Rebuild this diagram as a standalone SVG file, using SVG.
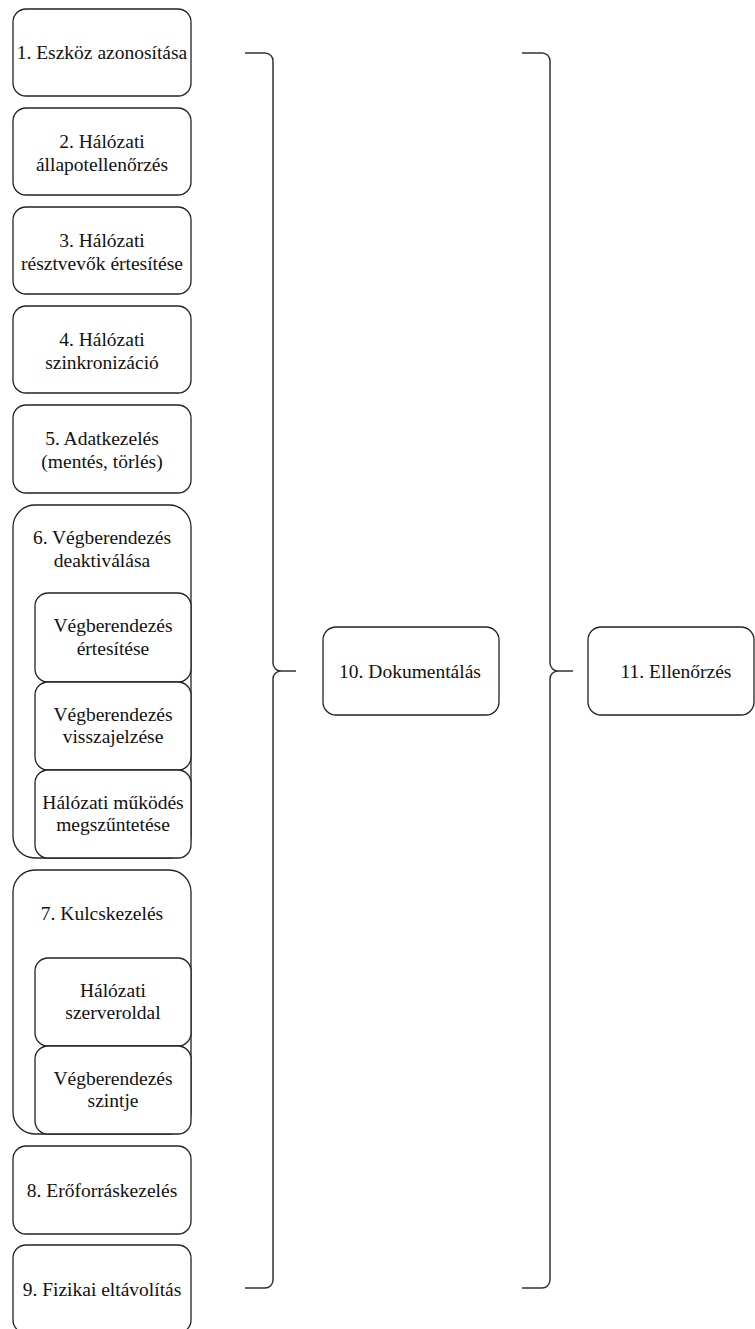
<svg xmlns="http://www.w3.org/2000/svg" width="755" height="1329" viewBox="0 0 755 1329">
  <style>
    .box { fill: #ffffff; stroke: #222222; stroke-width: 1.3; }
    .lbl { font-size: 19.5px; fill: #111111; text-anchor: middle; }
    .brace { fill: none; stroke: #333333; stroke-width: 1.5; }
  </style>
  <rect width="755" height="1329" fill="#ffffff"/>

  <g font-family="'Liberation Serif', 'DejaVu Serif', serif">
  <!-- step list, left column -->
  <g id="n1">
    <rect class="box" x="13" y="9" width="178" height="87" rx="13"/>
    <text class="lbl" x="102" y="59">1. Eszköz azonosítása</text>
  </g>
  <g id="n2">
    <rect class="box" x="13" y="108" width="178" height="87" rx="13"/>
    <text class="lbl" x="102" y="148">2. Hálózati</text>
    <text class="lbl" x="102" y="170.5">állapotellenőrzés</text>
  </g>
  <g id="n3">
    <rect class="box" x="13" y="207" width="178" height="87" rx="13"/>
    <text class="lbl" x="102" y="247">3. Hálózati</text>
    <text class="lbl" x="102" y="269.5">résztvevők értesítése</text>
  </g>
  <g id="n4">
    <rect class="box" x="13" y="306" width="178" height="87" rx="13"/>
    <text class="lbl" x="102" y="346">4. Hálózati</text>
    <text class="lbl" x="102" y="368.5">szinkronizáció</text>
  </g>
  <g id="n5">
    <rect class="box" x="13" y="405" width="178" height="88" rx="13"/>
    <text class="lbl" x="102" y="445">5. Adatkezelés</text>
    <text class="lbl" x="102" y="467.5">(mentés, törlés)</text>
  </g>

  <!-- step 6 with its sub-steps -->
  <g id="n6">
    <rect class="box" x="13" y="505" width="178" height="353" rx="22"/>
    <text class="lbl" x="102" y="544">6. Végberendezés</text>
    <text class="lbl" x="102" y="566.5">deaktiválása</text>
  </g>
  <g id="n6a">
    <rect class="box" x="35" y="593" width="156" height="89" rx="13"/>
    <text class="lbl" x="113" y="632">Végberendezés</text>
    <text class="lbl" x="113" y="654.5">értesítése</text>
  </g>
  <g id="n6b">
    <rect class="box" x="35" y="682" width="156" height="88" rx="13"/>
    <text class="lbl" x="113" y="720.5">Végberendezés</text>
    <text class="lbl" x="113" y="743">visszajelzése</text>
  </g>
  <g id="n6c">
    <rect class="box" x="35" y="770" width="156" height="88" rx="13"/>
    <text class="lbl" x="113" y="808.5">Hálózati működés</text>
    <text class="lbl" x="113" y="831">megszűntetése</text>
  </g>

  <!-- step 7 with its sub-steps -->
  <g id="n7">
    <rect class="box" x="13" y="870" width="178" height="264" rx="22"/>
    <text class="lbl" x="102" y="920">7. Kulcskezelés</text>
  </g>
  <g id="n7a">
    <rect class="box" x="35" y="958" width="156" height="88" rx="13"/>
    <text class="lbl" x="113" y="996.5">Hálózati</text>
    <text class="lbl" x="113" y="1019">szerveroldal</text>
  </g>
  <g id="n7b">
    <rect class="box" x="35" y="1046" width="156" height="88" rx="13"/>
    <text class="lbl" x="113" y="1084.5">Végberendezés</text>
    <text class="lbl" x="113" y="1107">szintje</text>
  </g>

  <g id="n8">
    <rect class="box" x="13" y="1146" width="178" height="88" rx="13"/>
    <text class="lbl" x="102" y="1196.5">8. Erőforráskezelés</text>
  </g>
  <g id="n9">
    <rect class="box" x="13" y="1245" width="178" height="88" rx="13"/>
    <text class="lbl" x="102" y="1295.5">9. Fizikai eltávolítás</text>
  </g>

  <!-- summary steps -->
  <g id="n10">
    <rect class="box" x="323" y="627" width="176" height="88" rx="13"/>
    <text class="lbl" x="410" y="677.5">10. Dokumentálás</text>
  </g>
  <g id="n11">
    <rect class="box" x="588" y="627" width="166" height="88" rx="13"/>
    <text class="lbl" x="676" y="677.5">11. Ellenőrzés</text>
  </g>
  </g>

  <!-- curly-brace connectors -->
  <g id="connectors">
    <path class="brace" d="M245,53 H265 A8,8 0 0 1 273,61 V663 A8,8 0 0 0 281,671 H296 M281,671 A8,8 0 0 0 273,679 V1280 A8,8 0 0 1 265,1288 H245"/>
    <path class="brace" d="M522,53 H542 A8,8 0 0 1 550,61 V663 A8,8 0 0 0 558,671 H573 M558,671 A8,8 0 0 0 550,679 V1280 A8,8 0 0 1 542,1288 H522"/>
  </g>
</svg>
